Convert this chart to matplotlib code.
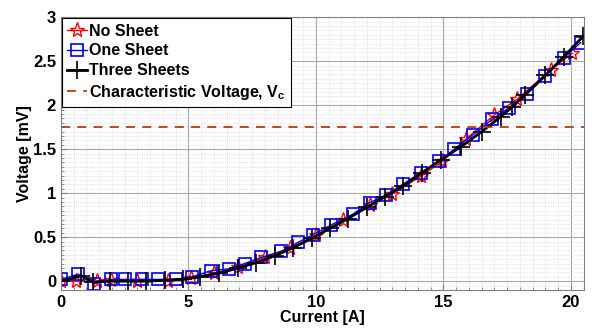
import matplotlib
matplotlib.use("Agg")
import matplotlib.pyplot as plt
from matplotlib.ticker import MultipleLocator, FormatStrFormatter

plt.rcParams['font.family'] = ['Liberation Sans', 'DejaVu Sans']
plt.rcParams['font.weight'] = 'bold'
plt.rcParams['mathtext.fontset'] = 'custom'
plt.rcParams['mathtext.bf'] = 'Liberation Sans:bold'
plt.rcParams['mathtext.rm'] = 'Liberation Sans:bold'
plt.rcParams['mathtext.it'] = 'Liberation Sans:bold'
plt.rcParams['mathtext.default'] = 'bf'

# No Sheet
I_no = [0, 0.6, 1.4, 1.95, 3.0, 4.2, 5.1, 6.0, 6.95, 8.0, 9.0, 10.0, 11.05, 12.1,
        13.0, 14.1, 14.95, 15.9, 17.0, 17.9, 19.2, 20.05]
V_no = [0.0, 0.0, 0.0, 0.01, 0.0, 0.0, 0.04, 0.09, 0.16, 0.27, 0.38, 0.52, 0.69, 0.86,
        0.99, 1.19, 1.36, 1.62, 1.89, 2.07, 2.40, 2.59]

# One Sheet
I_one = [0, 0.68, 1.3, 1.96, 2.5, 3.16, 3.8, 4.5, 5.15, 5.9, 6.6, 7.2, 7.85, 8.64, 9.29,
         9.9, 10.6, 11.44, 12.1, 12.74, 13.4, 14.1, 14.83, 15.42, 16.14, 16.92, 17.57,
         18.29, 19.0, 19.73, 20.38]
V_one = [0.02, 0.08, -0.03, 0.02, 0.02, 0.02, 0.02, 0.02, 0.05, 0.12, 0.14, 0.2, 0.27, 0.34,
         0.44, 0.53, 0.64, 0.76, 0.89, 0.98, 1.10, 1.23, 1.36, 1.50, 1.66, 1.84, 1.97,
         2.13, 2.33, 2.54, 2.71]

# Three Sheets
I_three = [0, 0.8, 1.26, 1.92, 2.63, 3.35, 4.07, 4.79, 5.45, 6.2, 6.95, 7.65, 8.4, 9.1,
           9.85, 10.55, 11.25, 12.0, 12.7, 13.4, 14.15, 14.9, 15.7, 16.5, 17.25, 17.7,
           18.2, 19.0, 19.72, 20.47]
V_three = [0.0, 0.06, -0.01, 0.0, 0.0, 0.0, 0.01, 0.02, 0.05, 0.09, 0.15, 0.21, 0.29, 0.38,
           0.49, 0.60, 0.71, 0.84, 0.96, 1.08, 1.23, 1.38, 1.53, 1.70, 1.87, 1.98,
           2.12, 2.34, 2.55, 2.78]

Vc = 1.75

labels = ['No Sheet', 'One Sheet', 'Three Sheets', r'Characteristic Voltage, $\mathbf{V_c}$']

fig = plt.figure(figsize=(5.92, 3.36), dpi=100)
ax = fig.add_axes([0.103, 0.137, 0.883, 0.812])

ax.plot(I_no, V_no, color='red', marker='*', markersize=11, markerfacecolor='none',
        markeredgewidth=1.0, linewidth=1.0, label=labels[0])
ax.plot(I_one, V_one, color='#0000ff', marker='s', markersize=9, markerfacecolor='none',
        markeredgewidth=1.2, linewidth=1.0, label=labels[1])
ax.plot(I_three, V_three, color='black', marker='+', markersize=13,
        markeredgewidth=1.2, linewidth=2.0, label=labels[2])
ax.axhline(Vc, color='#B83C0C', linestyle=(0, (5, 4)), linewidth=1.3, label=labels[3])

ax.set_xlim(0, 20.5)
ax.set_ylim(-0.1, 3)
ax.xaxis.set_major_locator(MultipleLocator(5))
ax.xaxis.set_minor_locator(MultipleLocator(0.5))
ax.yaxis.set_major_locator(MultipleLocator(0.5))
ax.yaxis.set_minor_locator(MultipleLocator(0.05))
ax.yaxis.set_major_formatter(FormatStrFormatter('%g'))
ax.grid(which='major', color='#a8a8a8', linewidth=0.8)
ax.grid(which='minor', color='#cccccc', linewidth=0.5, linestyle=':')
ax.set_axisbelow(True)
ax.tick_params(which='both', direction='in', labelsize=12, color='#808080')
ax.tick_params(which='minor', length=2)
ax.tick_params(which='major', length=4)
for s in ax.spines.values():
    s.set_color('#808080')

ax.set_xlabel('Current [A]', fontsize=11.5, fontweight='bold', labelpad=0)
ax.set_ylabel('Voltage [mV]', fontsize=11.5, fontweight='bold', labelpad=1)

leg = ax.legend(loc='upper left', fontsize=11.5, handlelength=1.2, handletextpad=0.15,
                borderaxespad=0.05, labelspacing=0.3, fancybox=False, framealpha=1,
                borderpad=0.35)
leg.get_frame().set_edgecolor('black')
leg.get_frame().set_linewidth(0.8)

fig.savefig('out.png', dpi=100)
